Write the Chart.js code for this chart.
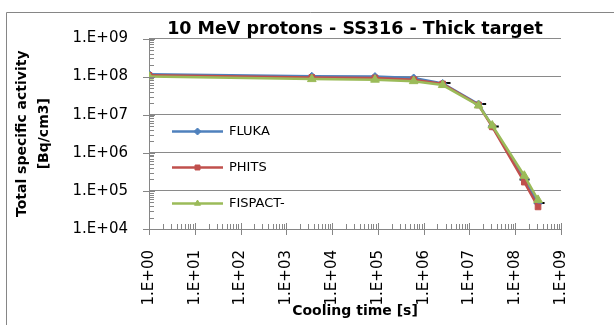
<!DOCTYPE html>
<html>
<head>
<meta charset="utf-8">
<script src="https://cdn.jsdelivr.net/npm/chart.js@4"></script>
<style>
  html, body { margin: 0; padding: 0; background: #fff; }
  canvas { display: block; }
</style>
</head>
<body>
<canvas id="chart" width="614" height="325"></canvas>
<script>
// cooling times [s]: 1 s, 1 h, 1 d, 1 w, 1 month, 6 months, 1 y, 5 y, 10 y
const coolingTimes = [1, 3600, 86400, 604800, 2.6e6, 1.58e7, 3.15e7, 1.58e8, 3.15e8];
const fluka   = [1.15e8, 1.02e8, 1.0e8, 9.2e7, 6.6e7, 1.9e7, 5.0e6, 2.0e5, 4.7e4];
const phits   = [1.08e8, 9.5e7, 9.2e7, 8.3e7, 6.4e7, 1.8e7, 4.8e6, 1.7e5, 3.8e4];
const fispact = [1.0e8, 8.6e7, 8.3e7, 7.6e7, 6.0e7, 1.75e7, 5.2e6, 2.5e5, 5.8e4];
// small black dash markers
const dashTimes  = [3.0e6, 1.8e7, 3.4e7, 1.6e8, 3.4e8];
const dashValues = [6.8e7, 1.9e7, 4.9e6, 2.0e5, 4.8e4];

const seriesNames = ['FLUKA', 'PHITS', 'FISPACT-'];
const xDecades = [0, 1, 2, 3, 4, 5, 6, 7, 8, 9];
const yDecades = [4, 5, 6, 7, 8, 9];

const FONT = 'DejaVu Sans';
const AXIS_GREY = '#868686';

function toPoints(xs, ys) {
    return xs.map((x, i) => ({ x: x, y: ys[i] }));
}

function logTicks(decades) {
    const out = [];
    decades.forEach((d, i) => {
        const last = i === decades.length - 1;
        for (let m = 1; m <= (last ? 1 : 9); m++) out.push({ value: m * Math.pow(10, d) });
    });
    return out;
}

function isMajor(v) {
    const l = Math.log10(v);
    return Math.abs(l - Math.round(l)) < 1e-9;
}

function excelLabel(v) {
    if (!isMajor(v)) return '';
    const e = Math.round(Math.log10(v));
    return '1.E+' + String(e).padStart(2, '0');
}

// 外框（只有上边和左边）
const framePlugin = {
    id: 'frame',
    beforeDraw(chart) {
        const ctx = chart.ctx;
        ctx.save();
        ctx.fillStyle = '#fff';
        ctx.fillRect(0, 0, chart.width, chart.height);
        ctx.strokeStyle = AXIS_GREY;
        ctx.lineWidth = 1;
        ctx.beginPath();
        ctx.moveTo(6.5, chart.height);
        ctx.lineTo(6.5, 12.5);
        ctx.lineTo(chart.width, 12.5);
        ctx.stroke();
        ctx.restore();
    }
};

// 刻度线：主刻度穿过轴线，次刻度在内侧
const tickMarkPlugin = {
    id: 'tickMarks',
    afterDatasetsDraw(chart) {
        const ctx = chart.ctx;
        const xs = chart.scales.x, ys = chart.scales.y;
        const area = chart.chartArea;
        ctx.save();
        ctx.strokeStyle = AXIS_GREY;
        ctx.lineWidth = 1;
        ctx.beginPath();
        ys.ticks.forEach(t => {
            const py = Math.round(ys.getPixelForValue(t.value)) + 0.5;
            if (isMajor(t.value)) {
                ctx.moveTo(area.left - 6, py);
                ctx.lineTo(area.left + 6, py);
            } else {
                ctx.moveTo(area.left, py);
                ctx.lineTo(area.left + 5, py);
            }
        });
        xs.ticks.forEach(t => {
            const px = Math.round(xs.getPixelForValue(t.value)) + 0.5;
            if (isMajor(t.value)) {
                ctx.moveTo(px, area.bottom - 6);
                ctx.lineTo(px, area.bottom + 6);
            } else {
                ctx.moveTo(px, area.bottom);
                ctx.lineTo(px, area.bottom - 5);
            }
        });
        ctx.stroke();
        ctx.restore();
    }
};

// 图例画在绘图区内部左侧
const insideLegendPlugin = {
    id: 'insideLegend',
    afterDraw(chart, args, opts) {
        const ctx = chart.ctx;
        const area = chart.chartArea;
        ctx.save();
        opts.items.forEach((name, i) => {
            const ds = chart.data.datasets[i];
            const y = area.top + opts.top + i * opts.spacing;
            const x0 = area.left + opts.left;
            const x1 = x0 + opts.lineLength;
            ctx.strokeStyle = ds.borderColor;
            ctx.lineWidth = ds.borderWidth;
            ctx.beginPath();
            ctx.moveTo(x0, y);
            ctx.lineTo(x1, y);
            ctx.stroke();
            ctx.fillStyle = ds.pointBackgroundColor;
            ctx.strokeStyle = ds.pointBorderColor;
            ctx.lineWidth = 1;
            Chart.helpers.drawPoint(ctx, {
                pointStyle: ds.pointStyle,
                radius: opts.markerRadius,
                borderWidth: 1
            }, (x0 + x1) / 2, y);
            ctx.fillStyle = '#000';
            ctx.font = '13px "' + FONT + '"';
            ctx.textBaseline = 'middle';
            ctx.textAlign = 'left';
            ctx.fillText(name, x1 + opts.textGap, y);
        });
        ctx.restore();
    }
};

function lineSeries(label, values, color, style, radius, order) {
    return {
        label: label,
        data: toPoints(coolingTimes, values),
        showLine: true,
        borderColor: color,
        backgroundColor: color,
        borderWidth: 2.5,
        pointStyle: style,
        pointRadius: radius,
        pointBackgroundColor: color,
        pointBorderColor: color,
        pointBorderWidth: 1,
        tension: 0,
        order: order
    };
}

const chart = new Chart(document.getElementById('chart'), {
    type: 'scatter',
    data: {
        datasets: [
            lineSeries(seriesNames[0], fluka, '#4F81BD', 'rectRot', 4, 3),
            lineSeries(seriesNames[1], phits, '#C0504D', 'rect', 4, 2),
            lineSeries(seriesNames[2], fispact, '#9BBB59', 'triangle', 5, 1),
            {
                label: 'dash',
                data: toPoints(dashTimes, dashValues),
                showLine: false,
                pointStyle: 'line',
                pointRadius: 5,
                borderColor: '#000',
                pointBorderColor: '#000',
                pointBorderWidth: 2,
                order: 4
            }
        ]
    },
    plugins: [framePlugin, tickMarkPlugin, insideLegendPlugin],
    options: {
        responsive: false,
        animation: false,
        devicePixelRatio: 1,
        layout: { padding: { left: 0, right: 53, top: 0, bottom: 0 } },
        plugins: {
            legend: { display: false },
            tooltip: { enabled: false },
            title: {
                display: true,
                fullSize: false,
                text: '10 MeV protons - SS316 - Thick target',
                color: '#000',
                font: { family: FONT, size: 17.5, weight: 'bold', lineHeight: 1 },
                padding: { top: 21, bottom: 0 }
            },
            insideLegend: {
                items: seriesNames,
                top: 93,
                spacing: 36,
                left: 23,
                lineLength: 51,
                textGap: 6,
                markerRadius: 3.5
            }
        },
        scales: {
            x: {
                type: 'logarithmic',
                min: Math.pow(10, xDecades[0]),
                max: Math.pow(10, xDecades[xDecades.length - 1]),
                afterBuildTicks: s => { s.ticks = logTicks(xDecades); },
                afterFit: s => { s.height = 96; },
                grid: { display: false, drawTicks: false },
                border: { display: true, color: AXIS_GREY, width: 1 },
                ticks: {
                    autoSkip: false,
                    minRotation: 90,
                    maxRotation: 90,
                    padding: 21,
                    color: '#000',
                    font: { family: FONT, size: 15 },
                    callback: v => excelLabel(v)
                },
                title: {
                    display: true,
                    text: 'Cooling time [s]',
                    color: '#000',
                    font: { family: FONT, size: 14, weight: 'bold', lineHeight: '17px' },
                    padding: { top: 0, bottom: 5 }
                }
            },
            y: {
                type: 'logarithmic',
                min: Math.pow(10, yDecades[0]),
                max: Math.pow(10, yDecades[yDecades.length - 1]),
                afterBuildTicks: s => { s.ticks = logTicks(yDecades); },
                afterFit: s => { s.width = 149; },
                grid: {
                    drawTicks: false,
                    color: c => (c.tick && isMajor(c.tick.value)) ? '#8a8a8a' : 'rgba(0,0,0,0)',
                    lineWidth: 1
                },
                border: { display: true, color: AXIS_GREY, width: 1 },
                ticks: {
                    autoSkip: false,
                    padding: 21,
                    color: '#000',
                    font: { family: FONT, size: 15 },
                    callback: v => excelLabel(v)
                },
                title: {
                    display: true,
                    text: ['Total specific activity', '[Bq/cm3]'],
                    color: '#000',
                    font: { family: FONT, size: 14, weight: 'bold', lineHeight: '22px' },
                    padding: { top: 11, bottom: 0 }
                }
            }
        }
    }
});
</script>
</body>
</html>
